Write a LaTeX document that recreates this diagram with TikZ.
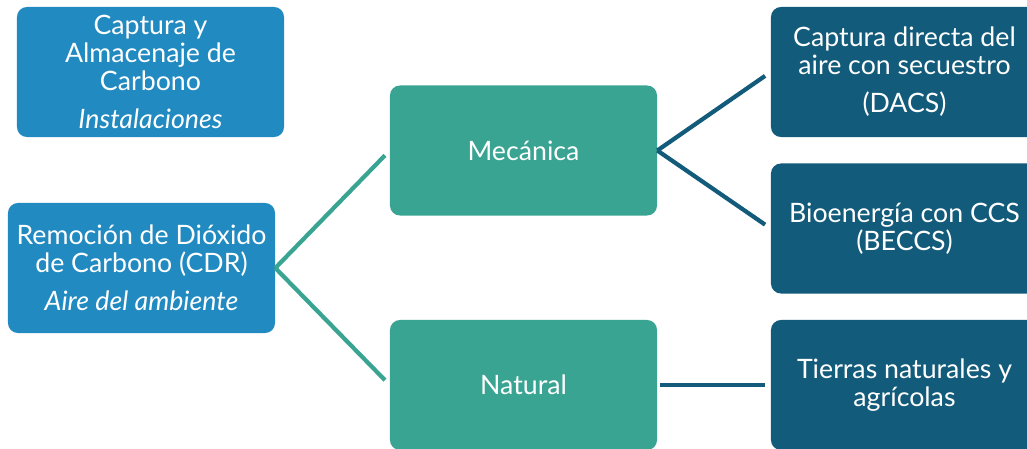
\documentclass[tikz,border=0pt]{standalone}
\usepackage{fontspec}
\setmainfont{Lato}
\usetikzlibrary{positioning}

\definecolor{cdrblue}{RGB}{33,138,192}
\definecolor{branchteal}{RGB}{58,164,147}
\definecolor{leafnavy}{RGB}{19,91,122}

\begin{document}
\begin{tikzpicture}[
    x=0.025cm, y=-0.025cm,
    box/.style={rectangle, rounded corners=0.25cm, minimum width=6.675cm, minimum height=3.25cm,
                align=center, text=white, inner sep=2pt, font=\fontsize{19}{20}\selectfont},
    root/.style={box, fill=cdrblue},
    branch/.style={box, fill=branchteal},
    leaf/.style={box, fill=leafnavy},
    tealline/.style={draw=branchteal, line width=3pt},
    navyline/.style={draw=leafnavy, line width=3pt}
]
\clip (0,0) rectangle (1027,448);

% Root boxes
\node[root] (ccs) at (150.5,72) {Captura y\\Almacenaje de\\Carbono\\[7pt]\textit{Instalaciones}};
\node[root] (cdr) at (141.5,268) {Remoción de Dióxido\\de Carbono (CDR)\\[7pt]\textit{Aire del ambiente}};

% Branches
\node[branch] (mec) at (523.5,150.5) {Mecánica};
\node[branch] (nat) at (523.5,385) {Natural};

% Leaves
\node[leaf] (dacs) at (904.5,72) {Captura directa del\\aire con secuestro\\[7pt](DACS)};
\node[leaf] (beccs) at (904.5,228.5) {Bioenergía con CCS\\(BECCS)};
\node[leaf] (tierras) at (904.5,385) {Tierras naturales y\\agrícolas};

% Lines
\draw[tealline, shorten >=0.17cm] (cdr.east) -- (mec.west);
\draw[tealline, shorten >=0.17cm] (cdr.east) -- (nat.west);
\draw[navyline, shorten >=0.17cm] (mec.east) -- (dacs.west);
\draw[navyline, shorten >=0.17cm] (mec.east) -- (beccs.west);
\draw[navyline, shorten <=0.07cm, shorten >=0.15cm] (nat.east) -- (tierras.west);

\end{tikzpicture}
\end{document}
